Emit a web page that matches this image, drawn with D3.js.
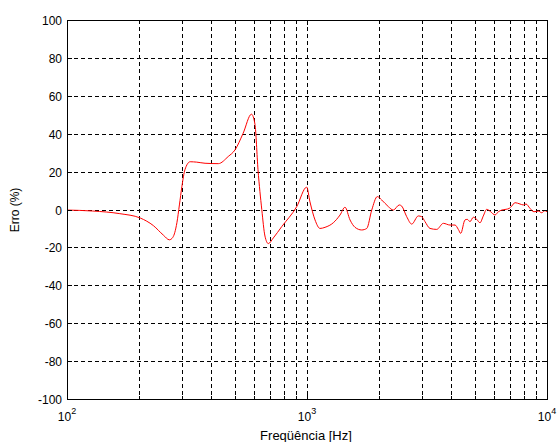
<!DOCTYPE html>
<html>
<head>
<meta charset="utf-8">
<script src="https://cdn.jsdelivr.net/npm/d3@7"></script>
<style>
    body { margin: 0; background: #fff; }
    svg text { font-family: "Liberation Sans", Arial, sans-serif; fill: #000; }
</style>
</head>
<body>
<svg id="svg" width="558" height="442"></svg>
<script>
// frequência (Hz) e erro (%)
let freq = [100, 128, 166, 202, 229, 252, 267, 276, 287, 294, 301, 310, 326, 347, 376, 427, 470, 501, 541, 587,
    607, 625, 648, 668, 690, 724, 785, 906, 997, 1029, 1080, 1133, 1189, 1287, 1373, 1440, 1511, 1585, 1690, 1774,
    1861, 1963, 2048, 2183, 2288, 2424, 2481, 2603, 2731, 2910, 3006, 3102, 3255, 3471, 3699, 3943, 4138, 4271, 4370, 4553,
    4655, 4778, 4931, 5095, 5258, 5428, 5609, 5828, 6073, 6269, 6477, 6750, 6967, 7129, 7359, 7718, 7967, 8176, 8497, 8828,
    9200, 9504, 9810, 10000];
let erro = [-0.3, -0.8, -2.2, -4.5, -8.5, -13.5, -16, -14.7, -7, 2.4, 12, 21, 25.2, 25, 24.4, 24.2, 28, 31.4, 40, 50.3,
    45, 21, 0, -14, -18, -15, -9, 1.5, 11.8, 4, -5.5, -10, -9.4, -7, -2.9, 1.2, -5.5, -9.4, -10.8, -10,
    -0.3, 6.8, 5, 1.5, -0.3, 2.4, 1.8, -3.8, -7.7, -3.4, -3.8, -6.4, -10, -10.5, -7.3, -8.2, -8.2, -10.5, -12.6, -5.5,
    -5.2, -6.4, -4.1, -5.2, -7, -3.4, 0.1, -1.2, -2.9, -1.2, -0.3, 0.1, 0.6, 1.8, 3.6, 2.9, 2.4, 2.9, 0.6, -1.2,
    -0.8, -1.7, -0.6, -1.2];
let yTicks = [-100, -80, -60, -40, -20, 0, 20, 40, 60, 80, 100];
let xMajor = [100, 1000, 10000];
let xMinor = [200, 300, 400, 500, 600, 700, 800, 900, 2000, 3000, 4000, 5000, 6000, 7000, 8000, 9000];

let svg = d3.select('#svg');
let mLeft = 67, mTop = 20, mRight = 547, mBottom = 399;

let x = d3.scaleLog().domain([100, 10000]).range([mLeft, mRight]);
let y = d3.scaleLinear().domain([-100, 100]).range([mBottom, mTop]);

let g = svg.append('g');

// grade tracejada
g.selectAll('.vgrid')
    .data(xMinor.concat([1000]))
    .enter().append('line')
    .attr('x1', d => Math.round(x(d)) + 0.5).attr('x2', d => Math.round(x(d)) + 0.5)
    .attr('y1', mTop).attr('y2', mBottom)
    .attr('stroke', '#000').attr('stroke-width', 1)
    .attr('stroke-dasharray', '4,3');
g.selectAll('.hgrid')
    .data(yTicks.slice(1, -1))
    .enter().append('line')
    .attr('x1', mLeft).attr('x2', mRight)
    .attr('y1', d => Math.round(y(d)) + 0.5).attr('y2', d => Math.round(y(d)) + 0.5)
    .attr('stroke', '#000').attr('stroke-width', 1)
    .attr('stroke-dasharray', '4,3');

// curva
let line = d3.line()
    .x((d, i) => x(freq[i]))
    .y(d => y(d))
    .curve(d3.curveMonotoneX);
g.append('path')
    .attr('d', line(erro))
    .attr('fill', 'none')
    .attr('stroke', '#ff0000')
    .attr('stroke-width', 1);

// caixa
g.append('rect')
    .attr('x', mLeft + 0.5).attr('y', mTop + 0.5)
    .attr('width', mRight - mLeft).attr('height', mBottom - mTop)
    .attr('fill', 'none').attr('stroke', '#000').attr('stroke-width', 1);

// marcas dos eixos (para dentro)
yTicks.forEach(t => {
    let yy = Math.round(y(t)) + 0.5;
    g.append('line').attr('x1', mLeft).attr('x2', mLeft + 5).attr('y1', yy).attr('y2', yy).attr('stroke', '#000');
    g.append('line').attr('x1', mRight - 5).attr('x2', mRight).attr('y1', yy).attr('y2', yy).attr('stroke', '#000');
    g.append('text')
        .attr('x', mLeft - 5).attr('y', yy + 4)
        .attr('text-anchor', 'end')
        .attr('font-size', 12)
        .text(t);
});
xMajor.concat(xMinor).forEach(t => {
    let xx = Math.round(x(t)) + 0.5;
    let len = xMajor.includes(t) ? 5 : 3;
    g.append('line').attr('x1', xx).attr('x2', xx).attr('y1', mBottom - len).attr('y2', mBottom).attr('stroke', '#000');
    g.append('line').attr('x1', xx).attr('x2', xx).attr('y1', mTop).attr('y2', mTop + len).attr('stroke', '#000');
});

// rótulos 10^n
xMajor.forEach(t => {
    let txt = g.append('text')
        .attr('x', x(t)).attr('y', 421)
        .attr('text-anchor', 'middle')
        .attr('font-size', 12);
    txt.append('tspan').text('10');
    txt.append('tspan').attr('dy', -7).attr('font-size', 9).text(Math.round(Math.log10(t)));
});

// títulos
svg.append('text')
    .attr('x', 306).attr('y', 440)
    .attr('text-anchor', 'middle')
    .attr('font-size', 13)
    .text('Freqüência [Hz]');
svg.append('text')
    .attr('transform', 'translate(19,210) rotate(-90)')
    .attr('text-anchor', 'middle')
    .attr('font-size', 12)
    .text('Erro (%)');
</script>
</body>
</html>
